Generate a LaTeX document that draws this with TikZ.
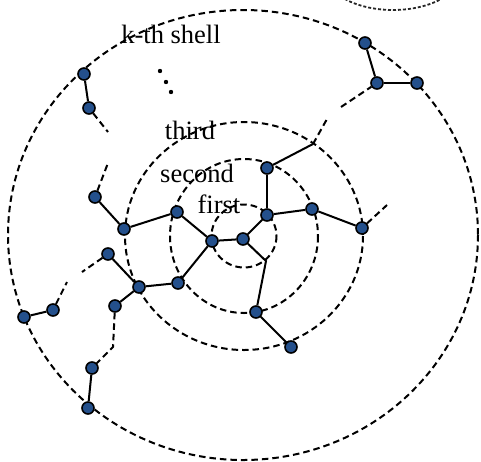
\documentclass[tikz,border=0pt]{standalone}
\usepackage{fontspec}
\setmainfont{Liberation Serif}
\definecolor{nodeblue}{RGB}{36,80,140}
\begin{document}
\begin{tikzpicture}[x=1pt,y=-1pt,
  shell/.style={draw=black,line width=2pt,dash pattern=on 6.5pt off 4pt},
  fineshell/.style={draw=black!85,line width=1.8pt,dash pattern=on 3pt off 2pt},
  vtx/.style={circle,minimum size=12pt,inner sep=0pt,fill=nodeblue,draw=black,line width=1.6pt},
  link/.style={draw=black,line width=2pt},
  dlink/.style={draw=black,line width=2pt,dash pattern=on 6.5pt off 4pt},
  lbl/.style={anchor=base,inner sep=0pt,font=\fontsize{26.5}{26.5}\selectfont}]
\useasboundingbox (0,0) rectangle (481,461);
\begin{scope}
\clip (0,0) rectangle (481,461);
% shells
\draw[shell] (244,236) ellipse [x radius=32.5, y radius=31.5];
\draw[shell] (244,236) ellipse [x radius=74, y radius=77];
\draw[shell] (244,236) ellipse [x radius=119, y radius=114];
\draw[shell] (243,235) ellipse [x radius=235, y radius=225];
\draw[fineshell] (393,-30) ellipse [x radius=70, y radius=40];
\end{scope}
% labels
\node[lbl] (lk) at (171,43) {k-th shell};
\node[lbl] (l3) at (190,139) {third};
\node[lbl] (l2) at (197,182) {second};
\node[lbl] (l1) at (219,213) {first};
% ellipsis dots
\fill (160,71) circle (2.2);
\fill (166,82) circle (2.2);
\fill (171,92) circle (2.2);
% vertices
\node[vtx] (o1) at (365,43) {};
\node[vtx] (o2) at (377,83) {};
\node[vtx] (o3) at (417,83) {};
\node[vtx] (o4) at (84,74) {};
\node[vtx] (o5) at (89,108) {};
\node[vtx] (o6) at (95,197) {};
\node[vtx] (t1) at (124,229) {};
\node[vtx] (s1) at (177,212) {};
\node[vtx] (f1) at (212,241) {};
\node[vtx] (c) at (243,239) {};
\node[vtx] (s2) at (267,168) {};
\node[vtx] (m1) at (267,215) {};
\node[vtx] (s4) at (312,209) {};
\node[vtx] (t2) at (362,228) {};
\node[vtx] (s5) at (178,283) {};
\node[vtx] (t3) at (139,287) {};
\node[vtx] (a1) at (108,254) {};
\node[vtx] (a2) at (115,306) {};
\node[vtx] (b1) at (53,310) {};
\node[vtx] (o7) at (24,317) {};
\node[vtx] (b2) at (92,368) {};
\node[vtx] (o8) at (88,408) {};
\node[vtx] (s6) at (256,312) {};
\node[vtx] (t4) at (291,347) {};
% free ends
\coordinate (j1) at (313,144);
\coordinate (j2) at (327,119);
\coordinate (j3) at (341,107);
\coordinate (k1) at (266,261);
\coordinate (e1) at (108,132);
\coordinate (e2) at (108,163);
\coordinate (e3) at (82,272);
\coordinate (e4) at (67,282);
\coordinate (e5) at (113,347);
\coordinate (e6) at (387,205);
% solid links
\draw[link] (o1) -- (o2);
\draw[link] (o2) -- (o3);
\draw[link] (o4) -- (o5);
\draw[link] (o6) -- (t1);
\draw[link] (t1) -- (s1);
\draw[link] (s1) -- (f1);
\draw[link] (f1) -- (c);
\draw[link] (c) -- (m1);
\draw[link] (m1) -- (s2);
\draw[link] (m1) -- (s4);
\draw[link] (s4) -- (t2);
\draw[link] (s2) -- (j1);
\draw[link] (c) -- (k1) -- (s6);
\draw[link] (s6) -- (t4);
\draw[link] (f1) -- (s5);
\draw[link] (s5) -- (t3);
\draw[link] (t3) -- (a1);
\draw[link] (t3) -- (a2);
\draw[link] (b1) -- (o7);
\draw[link] (b2) -- (o8);
% dashed links
\draw[dlink] (j1) -- (j2);
\draw[dlink] (j3) -- (o2);
\draw[dlink] (o5) -- (e1);
\draw[dlink] (o6) -- (e2);
\draw[dlink] (a1) -- (e3);
\draw[dlink] (b1) -- (e4);
\draw[dlink] (a2) -- (e5) -- (b2);
\draw[dlink] (t2) -- (e6);
\end{tikzpicture}
\end{document}
